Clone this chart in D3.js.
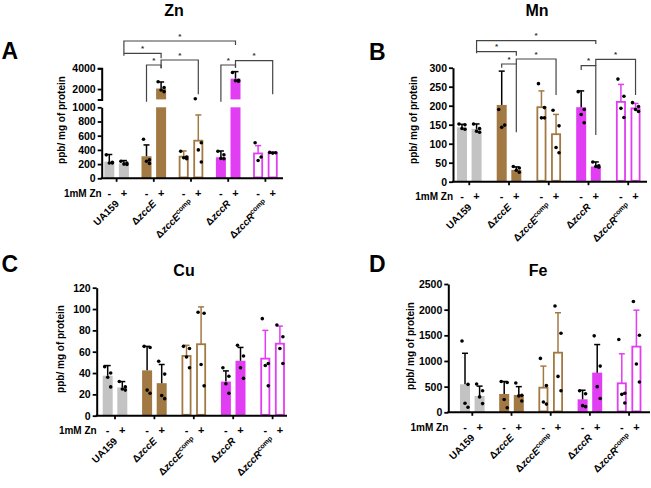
<!DOCTYPE html>
<html>
<head>
<meta charset="utf-8">
<script src="https://cdn.jsdelivr.net/npm/d3@7"></script>
<style>
body { margin: 0; background: #fff; }
svg { display: block; }
text { font-family: "Liberation Sans", Arial, sans-serif; font-weight: bold; }
</style>
</head>
<body>
<div id="chart"></div>
<script>
// categories
const groups = ["UA159", "ΔzccE", "ΔzccEcomp", "ΔzccR", "ΔzccRcomp"];
const labelParts = [["UA159", "", ""], ["Δ", "zccE", ""], ["Δ", "zccE", "comp"], ["Δ", "zccR", ""], ["Δ", "zccR", "comp"]];
const znLevels = ["-", "+"];
const groupColors = ["#c3c3c3", "#a27843", "#a27843", "#e13ef3", "#e13ef3"];
const groupOpen = [false, false, true, false, true];

// Zn (bars in order: group x [-,+])
const znMean = [235, 211, 310, 2050, 305, 530, 296, 3000, 350, 360];
const znErr = [335, 250, 470, 2680, 385, 892, 385, 3680, 460, 371];
const znPts = [[330, 225, 215, 215], [240, 215, 200, 195], [550, 260, 240, 210], [2700, 2150, 1900, 1750],
               [380, 300, 290, 275], [1060, 500, 400, 230], [380, 330, 280, 275], [3600, 2850, 2800, 2750],
               [500, 300, 250], [365, 360, 355]];

// Mn
const mnMean = [143, 139, 202, 31, 196, 125, 196, 40, 210, 193];
const mnErr = [151, 152, 291, 39, 239, 177, 239, 52, 256, 206];
const mnPts = [[152, 150, 140, 138], [152, 140, 133, 130], [190, 149, 143], [40, 36, 30, 25],
               [258, 195, 168, 168], [188, 147, 90, 76], [237, 190, 177, 155], [52, 42, 40, 38],
               [270, 225, 193, 169], [208, 198, 190, 185]];

// Cu
const cuMean = [37.5, 26.5, 42.5, 30.5, 56, 67, 32, 51.5, 53.5, 67.5];
const cuErr = [47, 32, 65, 48, 66, 102, 42, 64, 80, 84];
const cuPts = [[46, 40, 36, 27], [32, 27, 25, 24], [65, 64, 24, 21], [51, 39, 19, 16],
               [65, 63, 55, 45], [97, 96, 48, 28], [45, 37, 30, 21], [66, 56, 45, 35],
               [91, 49, 47, 28], [85, 74, 63, 49]];

// Fe
const feMean = [545, 318, 357, 338, 480, 1162, 253, 773, 565, 1280];
const feErr = [1150, 510, 600, 500, 900, 1940, 430, 1320, 1140, 1990];
const fePts = [[1390, 545, 175, 97], [550, 420, 300, 170], [600, 580, 250, 90], [570, 330, 320, 220],
               [1050, 520, 200, 160], [2070, 1540, 700, 420], [420, 360, 130, 110], [1490, 900, 500, 270],
               [1420, 370, 350, 180], [2160, 1500, 940, 590]];

// y tick labels
const znTicksLow = [0, 200, 400, 600, 800, 1000];
const znTicksHigh = [2000, 4000];
const mnTicks = [0, 50, 100, 150, 200, 250, 300];
const cuTicks = [0, 20, 40, 60, 80, 100, 120];
const feTicks = [0, 500, 1000, 1500, 2000, 2500];

const width = 651, height = 488;
const dotDx = [-3, 3, 0, 3];
const pairOff = 7.3, barW = 10;

const svg = d3.select("#chart").append("svg")
    .attr("width", width).attr("height", height);
svg.append("rect").attr("width", width).attr("height", height).attr("fill", "#fff");

const panels = [
    { title: "Zn", letter: "A", mean: znMean, err: znErr, pts: znPts,
      ax: 101.7, band: [98, 284], axEnd: 283, base: 178.3,
      segs: [{ d: [0, 1000], r: [178.3, 107.3], t: znTicksLow, outer: 0 },
             { d: [1000, 4000], r: [99.4, 68.3], t: znTicksHigh, outer: 4 }],
      titleX: 174, titleY: 16, letterX: 1.5, letterY: 58.5, ylabX: 61.7, ylabY: 120,
      brackets: [{ a: 1, b: 7, y: 41, la: 55.7, lb: 45 }, { a: 1, b: 3, y: 53.3, la: 53.3, lb: 58.3 },
                 { a: 2, b: 3, y: 65, la: 101.7, lb: 68.3 }, { a: 3, b: 5, y: 60, la: 68.3, lb: 94.3 },
                 { a: 6, b: 7, y: 65, la: 101.7, lb: 67.7 }, { a: 7, b: 9, y: 60.7, la: 67.7, lb: 94.3 }] },
    { title: "Mn", letter: "B", mean: mnMean, err: mnErr, pts: mnPts,
      ax: 453, band: [449.4, 648.1], axEnd: 647, base: 181.7,
      segs: [{ d: [0, 300], r: [181.7, 67.7], t: mnTicks, outer: 0 }],
      titleX: 537, titleY: 16, letterX: 369, letterY: 60, ylabX: 413.3, ylabY: 120,
      brackets: [{ a: 1, b: 7, y: 40.7, la: 53.3, lb: 44 }, { a: 1, b: 3, y: 51.7, la: 51.7, lb: 55.7 },
                 { a: 2, b: 3, y: 64, la: 67.7, lb: 132.3 }, { a: 3, b: 5, y: 59, la: 64, lb: 95 },
                 { a: 6, b: 7, y: 65.7, la: 70, lb: 135 }, { a: 7, b: 9, y: 59.3, la: 65.7, lb: 95 }] },
    { title: "Cu", letter: "C", mean: cuMean, err: cuErr, pts: cuPts,
      ax: 96.7, band: [95.3, 292.3], axEnd: 287, base: 415.7,
      segs: [{ d: [0, 120], r: [415.7, 287.7], t: cuTicks, outer: 0 }],
      titleX: 184, titleY: 275.5, letterX: 1.5, letterY: 271.7, ylabX: 60, ylabY: 349,
      brackets: [] },
    { title: "Fe", letter: "D", mean: feMean, err: feErr, pts: fePts,
      ax: 448.3, band: [452.7, 648.7], axEnd: 650, base: 412.3,
      segs: [{ d: [0, 2500], r: [412.3, 284], t: feTicks, outer: 0 }],
      titleX: 538, titleY: 275.5, letterX: 369, letterY: 271.7, ylabX: 410, ylabY: 346,
      brackets: [] }
];

panels.forEach(p => {
    const g = svg.append("g");
    const x = d3.scaleBand().domain(groups).range(p.band);
    const segScales = p.segs.map(s => d3.scaleLinear().domain(s.d).range(s.r));
    const y = v => {
        let i = p.segs.findIndex(s => v <= s.d[1]);
        if (i < 0) i = p.segs.length - 1;
        return segScales[i](v);
    };
    const barX = i => x(groups[Math.floor(i / 2)]) + x.bandwidth() / 2 + (i % 2 ? pairOff : -pairOff);

    const bars = d3.range(p.mean.length).map(i => ({
        i, gi: Math.floor(i / 2), mean: p.mean[i], err: p.err[i], pts: p.pts[i]
    }));

    // bars, split over the axis segments
    p.segs.forEach((s, si) => {
        g.append("g").selectAll("rect")
            .data(bars.filter(b => b.mean > s.d[0]))
            .join("rect")
            .attr("x", b => barX(b.i) - barW / 2 + (groupOpen[b.gi] ? 0.9 : 0))
            .attr("width", b => groupOpen[b.gi] ? barW - 1.8 : barW)
            .attr("y", b => segScales[si](Math.min(b.mean, s.d[1])))
            .attr("height", b => s.r[0] - segScales[si](Math.min(b.mean, s.d[1])) - (groupOpen[b.gi] ? 0.9 : 0))
            .attr("fill", b => groupOpen[b.gi] ? "#fff" : groupColors[b.gi])
            .attr("stroke", b => groupOpen[b.gi] ? groupColors[b.gi] : "none")
            .attr("stroke-width", 1.8);
    });

    // error bars (upper)
    const eb = g.append("g").selectAll("g").data(bars).join("g")
        .attr("stroke", b => groupOpen[b.gi] ? groupColors[b.gi] : "#000")
        .attr("stroke-width", 1.5);
    eb.append("line")
        .attr("x1", b => barX(b.i)).attr("x2", b => barX(b.i))
        .attr("y1", b => y(b.mean)).attr("y2", b => y(b.err));
    eb.append("line")
        .attr("x1", b => barX(b.i) - 3).attr("x2", b => barX(b.i) + 3)
        .attr("y1", b => y(b.err)).attr("y2", b => y(b.err));

    // points
    g.append("g").selectAll("circle")
        .data(bars.flatMap(b => b.pts.map((v, k) => ({ i: b.i, v, k }))))
        .join("circle")
        .attr("cx", d => barX(d.i) + dotDx[d.k])
        .attr("cy", d => y(d.v))
        .attr("r", 1.8)
        .attr("fill", "#000");

    // y axis segments
    p.segs.forEach((s, si) => {
        const a = g.append("g")
            .attr("transform", `translate(${p.ax},0)`)
            .call(d3.axisLeft(segScales[si]).tickValues(s.t).tickFormat(d3.format("d"))
                .tickSize(4).tickSizeOuter(s.outer).tickPadding(2));
        a.select(".domain").attr("stroke-width", 2);
        a.selectAll(".tick line").attr("stroke-width", 1.8);
        a.selectAll("text").attr("font-size", 10.5).attr("font-family", "Liberation Sans, Arial, sans-serif")
            .attr("font-weight", "bold").attr("fill", "#000");
    });

    // x baseline with category ticks
    g.append("line")
        .attr("x1", p.ax - 1).attr("x2", p.axEnd)
        .attr("y1", p.base).attr("y2", p.base)
        .attr("stroke", "#000").attr("stroke-width", 2);
    g.append("g").selectAll("line").data(groups).join("line")
        .attr("x1", d => x(d) + x.bandwidth() / 2).attr("x2", d => x(d) + x.bandwidth() / 2)
        .attr("y1", p.base).attr("y2", p.base + 3.5)
        .attr("stroke", "#000").attr("stroke-width", 1.8);

    // Zn +/- row
    g.append("text")
        .attr("x", p.ax).attr("y", p.base + 18.5)
        .attr("text-anchor", "end").attr("font-size", 10)
        .text("1mM Zn");
    g.append("g").selectAll("text").data(bars).join("text")
        .attr("x", b => barX(b.i)).attr("y", b => p.base + 18.5)
        .attr("text-anchor", "middle").attr("font-size", 11)
        .text(b => znLevels[b.i % 2]);

    // category labels
    const cl = g.append("g").selectAll("text").data(groups).join("text")
        .attr("transform", d => `translate(${x(d) + x.bandwidth() / 2 + 3},${p.base + 26}) rotate(-45)`)
        .attr("text-anchor", "end").attr("font-size", 10);
    cl.append("tspan").text((d, i) => labelParts[i][0]);
    cl.append("tspan").attr("font-style", "italic").text((d, i) => labelParts[i][1]);
    cl.append("tspan").attr("font-size", 7).attr("dy", (d, i) => labelParts[i][2] ? -4 : 0)
        .text((d, i) => labelParts[i][2]);

    // y title
    g.append("text")
        .attr("transform", `translate(${p.ylabX},${p.ylabY}) rotate(-90)`)
        .attr("dy", "0.35em").attr("text-anchor", "middle").attr("font-size", 10)
        .text("ppb/ mg of protein");

    // panel title and letter
    g.append("text").attr("x", p.titleX).attr("y", p.titleY)
        .attr("text-anchor", "middle").attr("font-size", 16).text(p.title);
    g.append("text").attr("x", p.letterX).attr("y", p.letterY)
        .attr("font-size", 23).text(p.letter);

    // significance brackets
    const br = g.append("g").selectAll("g").data(p.brackets).join("g");
    br.append("path")
        .attr("d", d => `M${barX(d.a)},${d.la}V${d.y}H${barX(d.b)}V${d.lb}`)
        .attr("fill", "none").attr("stroke", "#444").attr("stroke-width", 1.2);
    br.append("text")
        .attr("x", d => (barX(d.a) + barX(d.b)) / 2).attr("y", d => d.y - 2.5)
        .attr("text-anchor", "middle").attr("font-size", 8).attr("font-weight", "normal")
        .attr("fill", "#333").text("*");
});
</script>
</body>
</html>
